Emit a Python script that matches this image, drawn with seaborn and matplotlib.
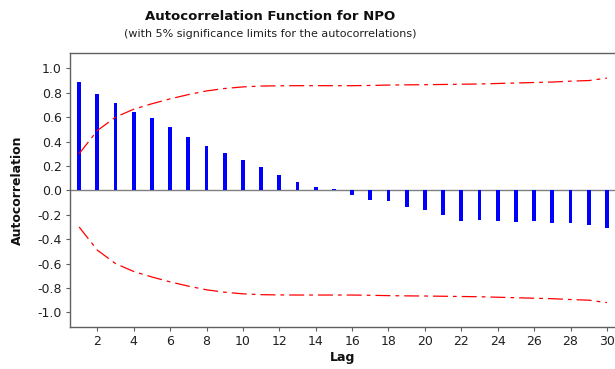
import numpy as np
import pandas as pd
import seaborn as sns
import matplotlib.pyplot as plt

# values
lags = list(range(1, 31))
acf = [0.89, 0.79, 0.715, 0.64, 0.59, 0.52, 0.44, 0.365, 0.31, 0.245,
       0.19, 0.125, 0.07, 0.03, 0.008, -0.035, -0.075, -0.085, -0.135, -0.165,
       -0.20, -0.25, -0.24, -0.25, -0.26, -0.25, -0.27, -0.27, -0.28, -0.31]
upper_limit = [0.30, 0.49, 0.60, 0.665, 0.71, 0.75, 0.785, 0.815, 0.835, 0.848,
               0.855, 0.857, 0.858, 0.858, 0.858, 0.858, 0.86, 0.863, 0.865, 0.866,
               0.868, 0.87, 0.872, 0.876, 0.88, 0.884, 0.888, 0.895, 0.90, 0.92]
lower_limit = [-v for v in upper_limit]
x_ticks = list(range(2, 31, 2))
y_ticks = [1.0, 0.8, 0.6, 0.4, 0.2, 0.0, -0.2, -0.4, -0.6, -0.8, -1.0]

sns.set_style("white")
plt.rcParams['font.family'] = ['DejaVu Sans']

df = pd.DataFrame({'Lag': lags, 'ACF': acf, 'Upper': upper_limit, 'Lower': lower_limit})

fig = plt.figure(figsize=(6.15, 3.69), dpi=100)
ax = fig.add_axes([70 / 615, 1 - 327 / 369, 546 / 615, (327 - 52.5) / 369])

sns.barplot(data=df, x='Lag', y='ACF', native_scale=True, width=0.2,
            color='#0000FF', saturation=1, edgecolor='none', ax=ax)
for col in ['Upper', 'Lower']:
    sns.lineplot(data=df, x='Lag', y=col, color='#FF0000', lw=0.9,
                 linestyle=(0, (12, 4, 3, 4)), ax=ax)

ax.axhline(0, color='#808080', lw=1.0, zorder=0.5)
ax.set_xlim(0.5, 30.5)
ax.set_ylim(-1.12, 1.13)
ax.set_xticks(x_ticks)
ax.set_yticks(y_ticks)
ax.set_yticklabels([f'{v:.1f}' for v in y_ticks])
ax.tick_params(axis='both', direction='out', length=3, width=0.8, color='#606060',
               labelsize=9, labelcolor='#202020', bottom=True, left=True, pad=3)
for s in ax.spines.values():
    s.set_color('#606060')
    s.set_linewidth(1.0)

ax.set_xlabel('')
ax.set_ylabel('')
fig.text(17 / 615, 1 - 190 / 369, 'Autocorrelation', rotation=90, ha='center', va='center',
         fontsize=9, fontweight='bold', color='#101010')
fig.text(343 / 615, 1 - 358 / 369, 'Lag', ha='center', va='center',
         fontsize=9, fontweight='bold', color='#101010')
fig.text(270 / 615, 1 - 17 / 369, 'Autocorrelation Function for NPO', ha='center', va='center',
         fontsize=9.5, fontweight='bold', color='#101010')
fig.text(270 / 615, 1 - 34 / 369, '(with 5% significance limits for the autocorrelations)',
         ha='center', va='center', fontsize=8, color='#202020')

fig.savefig('out.png', dpi=100)
